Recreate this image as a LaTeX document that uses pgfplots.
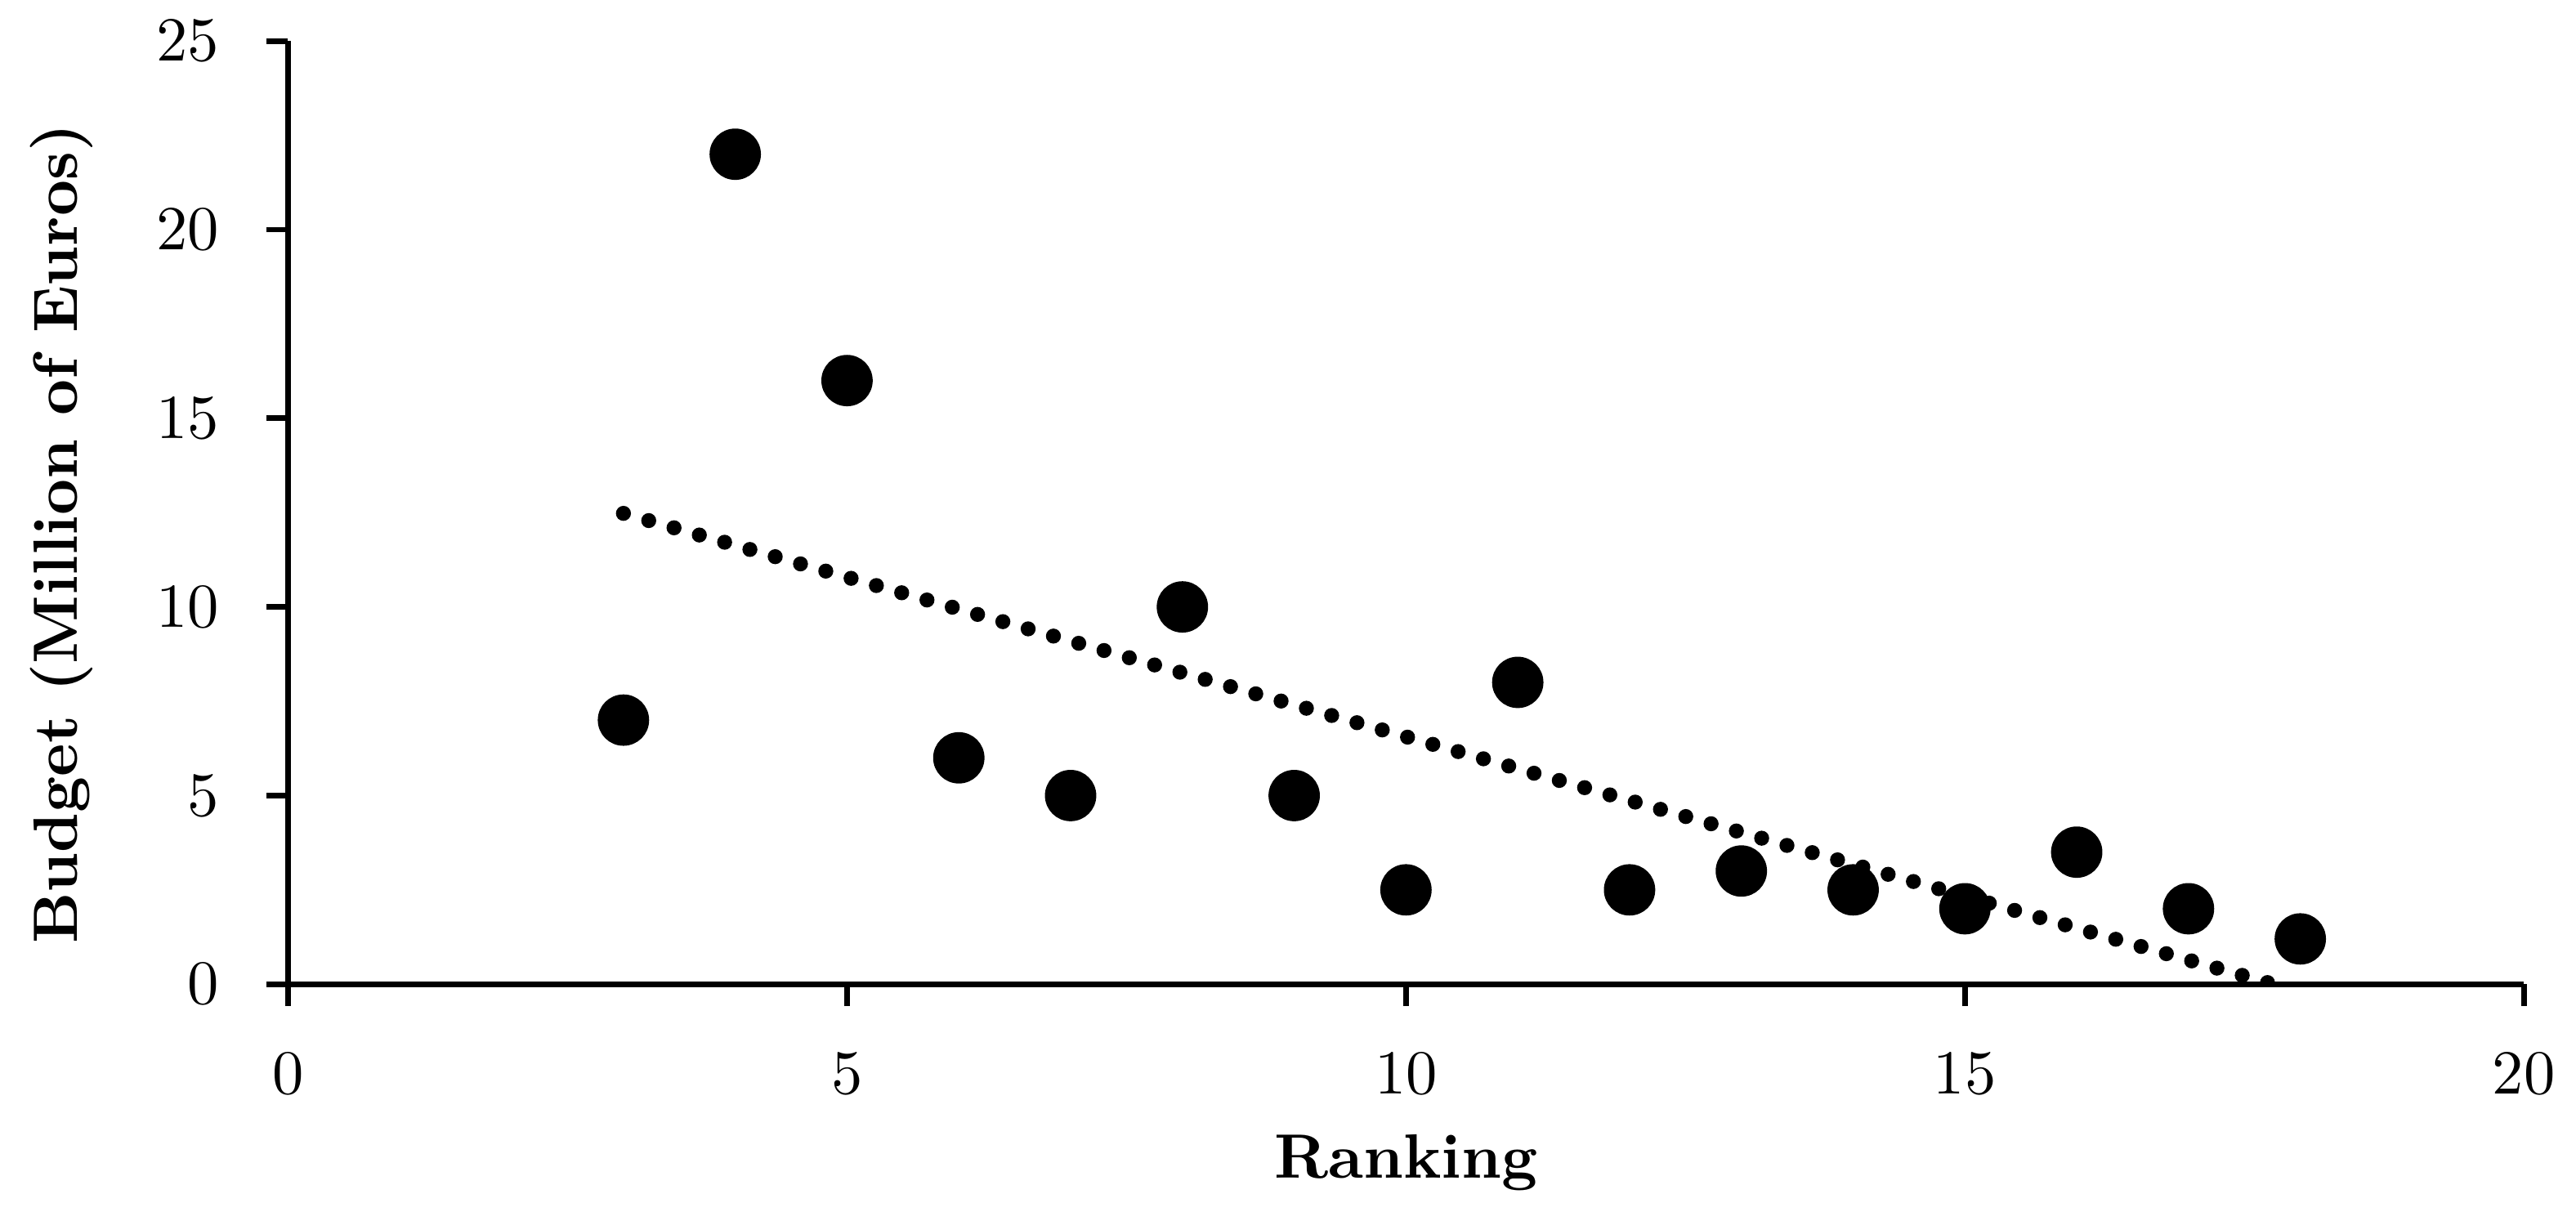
\documentclass[border=0pt]{standalone}
\usepackage{pgfplots}
\pgfplotsset{compat=1.18}
\begin{document}
\begin{tikzpicture}
\begin{axis}[
  scale only axis, width=357pt, height=150.6pt,
  xmin=0, xmax=20, ymin=0, ymax=25,
  xtick={0,5,10,15,20}, ytick={0,5,10,15,20,25},
  axis lines*=left,
  axis line style={line width=0.9pt, black},
  tick align=outside, major tick length=3.5pt,
  tick style={line width=0.9pt, black},
  tick label style={font=\normalsize},
  xticklabel style={yshift=-4pt},
  yticklabel style={xshift=-4pt},
  xlabel={\textbf{Ranking}}, ylabel={\textbf{Budget (Million of Euros)}},
  label style={font=\normalsize},
  xlabel style={at={([yshift=-31pt]axis description cs:0.5,0)}, anchor=base},
  ylabel style={at={([xshift=-33.7pt,yshift=-3.4pt]axis description cs:0,0.5)}, anchor=base},
  clip mode=individual,
]
\addplot[only marks, mark=*, mark size=3.9pt, black] coordinates {
 (3,7) (4,22) (5,16) (6,6) (7,5) (8,10) (9,5) (10,2.5) (11,8) (12,2.5)
 (13,3) (14,2.5) (15,2) (16,3.5) (17,2) (18,1.2)
};
\addplot[black, line width=2.4pt, line cap=round, dash pattern=on 0pt off 4.2pt] coordinates {
 (3,12.48) (18,-0.205)
};
\coordinate (ll) at (rel axis cs:0,0);
\coordinate (ur) at (rel axis cs:1,1);
\end{axis}
\path (ll) ++(-46pt,-35.2pt);
\path (ur) ++(6pt,6.5pt);
\end{tikzpicture}
\end{document}
